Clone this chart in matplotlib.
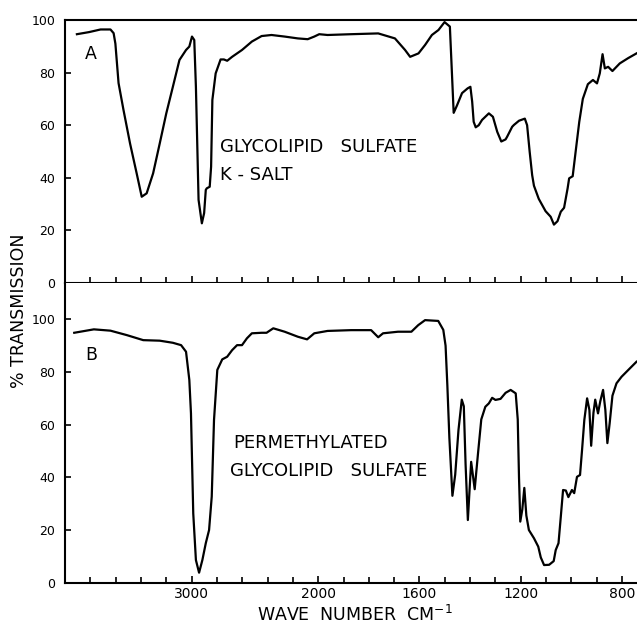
import numpy as np
import matplotlib
matplotlib.use('Agg')
import matplotlib.pyplot as plt

# IR spectra (wave number cm-1, % transmission)
wn_a = [3906, 3810, 3719, 3641, 3616, 3602, 3577, 3538, 3486, 3434, 3394, 3355,
        3304, 3252, 3200, 3148, 3096, 3044, 3018, 2997, 2979, 2966, 2945, 2919,
        2901, 2888, 2880, 2857, 2846, 2836, 2810, 2771, 2745, 2719, 2680, 2602,
        2524, 2447, 2369, 2265, 2161, 2083, 2031, 1996, 1963, 1870, 1763, 1697,
        1657, 1637, 1604, 1578, 1551, 1525, 1501, 1480, 1472, 1465, 1452, 1432,
        1410, 1399, 1392, 1386, 1378, 1366, 1353, 1326, 1310, 1293, 1277, 1260,
        1254, 1234, 1227, 1207, 1184, 1175, 1165, 1155, 1148, 1129, 1102, 1082,
        1069, 1055, 1042, 1029, 1015, 1009, 995, 982, 969, 955, 935, 915,
        899, 888, 877, 868, 855, 838, 809, 776, 743]
t_a = [94.6, 95.4, 96.4, 96.4, 95.0, 91.0, 76.0, 65.8, 53.0, 41.7, 32.8, 34.1,
       41.7, 53.0, 64.5, 74.6, 84.8, 88.6, 89.9, 93.7, 92.4, 74.6, 31.6, 22.7,
       26.6, 35.4, 36.0, 36.6, 44.2, 69.6, 79.7, 85.0, 85.0, 84.5, 86.0, 88.6,
       91.8, 93.9, 94.3, 93.7, 93.0, 92.7, 93.7, 94.6, 94.3, 94.6, 94.9, 93.0,
       88.6, 86.0, 87.3, 90.5, 94.3, 96.2, 99.2, 97.5, 80.0, 64.7, 67.5, 72.2,
       74.0, 74.6, 69.0, 61.3, 59.2, 60.0, 62.0, 64.5, 63.2, 57.5, 53.8, 54.6,
       55.6, 59.4, 60.1, 61.7, 62.5, 60.0, 50.0, 41.0, 37.0, 32.0, 27.3, 25.2,
       22.2, 23.5, 27.1, 28.6, 36.0, 39.8, 40.6, 51.0, 61.3, 70.0, 75.6, 77.2,
       75.9, 79.7, 87.0, 81.6, 82.2, 80.6, 83.5, 85.5, 87.3]

wn_b = [3927, 3772, 3641, 3511, 3382, 3252, 3148, 3083, 3044, 3018, 3005, 2987,
        2966, 2941, 2915, 2888, 2862, 2841, 2823, 2797, 2758, 2719, 2680, 2641,
        2602, 2563, 2524, 2447, 2408, 2355, 2265, 2161, 2088, 2031, 1963, 1870,
        1791, 1763, 1744, 1685, 1632, 1605, 1578, 1526, 1506, 1497, 1490, 1482,
        1470, 1459, 1446, 1433, 1425, 1418, 1409, 1396, 1388, 1382, 1369, 1356,
        1340, 1326, 1313, 1300, 1280, 1260, 1240, 1220, 1212, 1207, 1202, 1194,
        1186, 1178, 1168, 1148, 1131, 1121, 1108, 1088, 1070, 1062, 1051, 1042,
        1033, 1022, 1012, 998, 989, 978, 966, 958, 949, 938, 929, 922,
        913, 906, 895, 886, 875, 866, 858, 849, 838, 822, 802, 769, 743]
t_b = [94.9, 96.2, 95.7, 94.0, 92.1, 91.9, 91.1, 90.2, 87.7, 77.0, 64.3, 26.3,
       8.6, 3.8, 8.6, 15.0, 20.0, 32.7, 61.8, 80.8, 84.8, 85.8, 88.3, 90.2,
       90.2, 92.8, 94.7, 94.9, 94.9, 96.6, 95.3, 93.4, 92.4, 94.7, 95.6, 95.9,
       95.9, 93.2, 94.7, 95.3, 95.3, 97.8, 99.7, 99.4, 96.0, 90.0, 75.0, 55.0,
       33.0, 41.0, 58.0, 69.5, 67.0, 45.0, 23.8, 45.9, 40.0, 35.5, 49.0, 62.0,
       66.8, 68.1, 70.2, 69.4, 69.8, 72.1, 73.2, 71.9, 62.0, 40.0, 23.2, 27.8,
       36.0, 25.5, 20.0, 16.9, 13.7, 9.6, 6.7, 6.8, 8.2, 12.4, 15.0, 25.0,
       35.2, 35.0, 32.5, 35.2, 34.0, 40.2, 40.9, 50.4, 61.8, 70.0, 65.6, 52.0,
       64.5, 69.5, 64.3, 68.9, 73.2, 65.6, 53.0, 60.5, 71.0, 75.7, 78.2, 81.4, 83.9]

major_ticks = [3000, 2000, 1600, 1200, 800]
minor_ticks = [3800, 3600, 3400, 3200, 2800, 2600, 2400, 2200,
               1900, 1800, 1700, 1500, 1400, 1300, 1100, 1000, 900]
y_ticks = [0, 20, 40, 60, 80, 100]


# chart paper doubles its scale below 2000 cm-1
def forward(w):
    w = np.asarray(w, dtype=float)
    return np.where(w >= 2000, w, 2 * w - 2000)


def inverse(u):
    u = np.asarray(u, dtype=float)
    return np.where(u >= 2000, u, (u + 2000) / 2)


plt.rcParams['font.family'] = 'DejaVu Sans'
fig = plt.figure(figsize=(6.37, 6.24), dpi=100)

W, H = 637, 624
left_px, right_px = 65, 637
ax1 = fig.add_axes([left_px / W, 1 - 283 / H, (right_px - left_px) / W, 263 / H])
ax2 = fig.add_axes([left_px / W, 1 - 582.7 / H, (right_px - left_px) / W, 299.7 / H])

for ax, wn, t in [(ax1, wn_a, t_a), (ax2, wn_b, t_b)]:
    ax.plot(wn, t, color='black', linewidth=1.6, solid_joinstyle='round')
    ax.set_xscale('function', functions=(forward, inverse))
    ax.set_xlim(4000, 741)
    ax.set_xticks(major_ticks)
    ax.set_xticklabels([str(v) for v in major_ticks])
    ax.set_xticks(minor_ticks, minor=True)
    ax.set_yticks(y_ticks)
    ax.tick_params(axis='both', which='both', direction='in', width=1.2, color='black')
    ax.tick_params(axis='x', which='major', length=5, pad=3, labelsize=10)
    ax.tick_params(axis='x', which='minor', length=4)
    ax.tick_params(axis='y', length=4, pad=7, labelsize=9)
    ax.spines['right'].set_visible(False)
    for s in ['left', 'bottom', 'top']:
        ax.spines[s].set_linewidth(1.5)

ax1.set_ylim(0, 100)
ax2.set_ylim(0, 113.8)
ax2.spines['top'].set_visible(False)

# panel labels and captions
ax1.text(0.0446, 0.869, 'A', transform=ax1.transAxes, fontsize=12.5, ha='center', va='center')
ax1.text(0.271, 0.519, 'GLYCOLIPID   SULFATE', transform=ax1.transAxes, fontsize=13, va='center')
ax1.text(0.271, 0.411, 'K - SALT', transform=ax1.transAxes, fontsize=13, va='center')

ax2.text(0.0463, 0.760, 'B', transform=ax2.transAxes, fontsize=12.5, ha='center', va='center')
ax2.text(0.294, 0.4645, 'PERMETHYLATED', transform=ax2.transAxes, fontsize=13, va='center')
ax2.text(0.288, 0.3727, 'GLYCOLIPID   SULFATE', transform=ax2.transAxes, fontsize=13, va='center')

fig.text(355 / W, 1 - 615 / H, 'WAVE  NUMBER  CM$^{-1}$', fontsize=12.5, ha='center', va='center')
fig.text(19.5 / W, 1 - 311 / H, '% TRANSMISSION', fontsize=12.5, rotation=90,
         ha='center', va='center')

plt.savefig('out.png', dpi=100)
